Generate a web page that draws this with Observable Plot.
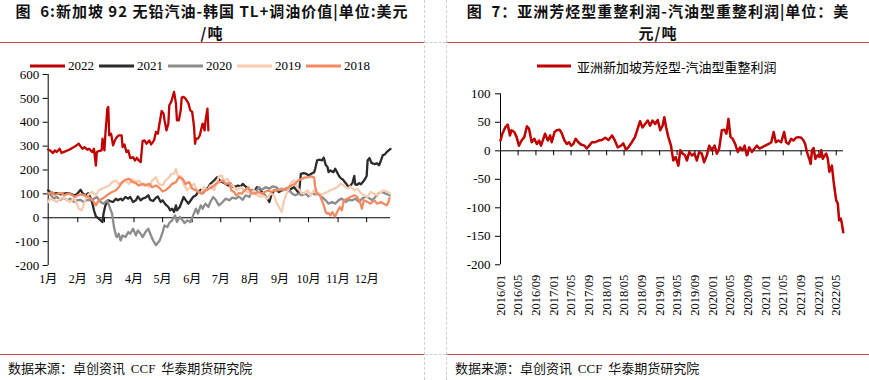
<!DOCTYPE html>
<html><head><meta charset="utf-8">
<script src="https://cdn.jsdelivr.net/npm/d3@7"></script>
<script src="https://cdn.jsdelivr.net/npm/@observablehq/plot@0.6"></script>
<style>
body{margin:0;background:#fff;}
#root{position:relative;width:869px;height:380px;overflow:hidden;font-family:"Noto Sans CJK SC",sans-serif;color:#000;}
.title{position:absolute;text-align:center;font-weight:bold;font-size:15px;letter-spacing:1px;line-height:22px;height:22px;color:#111;white-space:nowrap;}
.foot{position:absolute;top:359px;font-size:13px;line-height:18px;white-space:nowrap;color:#111;}
.foot .lat{font-family:"Liberation Serif",serif;}
.vdash{position:absolute;top:0;height:380px;width:0;border-left:1px dashed #cfcfcf;}
.hdash{position:absolute;height:0;border-top:1px dashed #cfcfcf;}
.red{position:absolute;height:0;border-top:1px solid #c0504d;}
.legend{position:absolute;display:flex;align-items:center;white-space:nowrap;}
.legend .item{display:flex;align-items:center;margin-right:5px;}
.legend svg{margin-right:3px;}
.chart{position:absolute;}
</style>
</head><body>
<div id="root">
  <div class="title" style="left:0;width:424px;top:0;">图&nbsp;&nbsp;6:新加坡&nbsp;92&nbsp;无铅汽油-韩国&nbsp;TL+调油价值|单位:美元</div>
  <div class="title" style="left:0;width:424px;top:22px;">/吨</div>
  <div class="title" style="left:447px;width:422px;top:0;">图&nbsp;&nbsp;7：亚洲芳烃型重整利润-汽油型重整利润|单位：美</div>
  <div class="title" style="left:447px;width:422px;top:22px;">元/吨</div>
  <div class="red" style="left:0;width:424px;top:42px;"></div>
  <div class="red" style="left:447px;width:422px;top:42px;"></div>
  <div class="red" style="left:0;width:424px;top:354px;"></div>
  <div class="red" style="left:447px;width:422px;top:354px;"></div>
  <div class="vdash" style="left:424px;"></div>
  <div class="vdash" style="left:446px;"></div>
  <div class="hdash" style="left:425px;width:21px;top:42px;"></div>
  <div class="hdash" style="left:425px;width:21px;top:354px;"></div>
  <div id="legL" class="legend" style="left:30px;top:58px;height:16px;"></div>
  <div id="legR" class="legend" style="left:537px;top:57px;height:18px;"></div>
  <div id="chartL" class="chart" style="left:0;top:0;"></div>
  <div id="chartR" class="chart" style="left:440px;top:0;"></div>
  <div class="foot" style="left:8px;">数据来源：卓创资讯&nbsp;&nbsp;<span class="lat">CCF</span>&nbsp;&nbsp;华泰期货研究院</div>
  <div class="foot" style="left:455px;">数据来源：卓创资讯&nbsp;&nbsp;<span class="lat">CCF</span>&nbsp;&nbsp;华泰期货研究院</div>
</div>
<script>
// ---------- Left chart data (x = day of year, y = USD/t) ----------
const leftYears = ["2022", "2021", "2020", "2019", "2018"];
const leftColors = ["#C00000", "#2b2b2b", "#8c8c8c", "#F9CBB0", "#F28A62"];
const monthStarts = [0, 31, 59, 90, 120, 151, 181, 212, 243, 273, 304, 334];
const monthLabels = ["1月","2月","3月","4月","5月","6月","7月","8月","9月","10月","11月","12月"];
const leftYTicks = [-200, -100, 0, 100, 200, 300, 400, 500, 600];

const s2022 = [[0,286],[2,282],[5,271],[7,282],[9,275],[12,289],[14,271],[16,275],[22,285],[27,296],[32,310],[34,299],[36,289],[38,296],[41,285],[43,289],[46,275],[48,289],[50,218],[51,275],[53,279],[56,282],[57,331],[59,282],[60,352],[62,457],[63,464],[64,345],[66,352],[68,303],[70,324],[72,338],[74,345],[77,345],[78,296],[80,307],[82,275],[84,282],[86,250],[89,254],[91,240],[93,251],[95,240],[97,233],[99,321],[101,324],[103,310],[106,324],[108,307],[111,324],[113,359],[115,352],[117,401],[119,447],[121,436],[122,408],[124,366],[126,394],[127,471],[129,485],[131,513],[132,527],[134,478],[135,408],[137,408],[139,450],[140,503],[142,506],[144,499],[147,480],[149,450],[151,443],[153,380],[154,310],[155,331],[157,331],[159,345],[161,380],[162,394],[164,366],[165,408],[167,457],[168,366]];
const s2021 = [[0,115],[2,108],[6,101],[9,103],[13,98],[16,101],[20,103],[23,101],[27,94],[30,98],[34,117],[36,103],[39,94],[42,103],[44,87],[46,66],[48,31],[50,6],[51,3],[53,-4],[55,-11],[57,-18],[58,17],[60,52],[63,73],[65,70],[68,66],[71,80],[73,73],[76,80],[78,73],[81,87],[84,80],[86,87],[89,66],[92,73],[94,89],[97,73],[99,80],[102,84],[105,94],[107,75],[110,70],[113,84],[115,89],[118,66],[120,73],[123,56],[126,45],[128,31],[130,38],[132,24],[134,52],[135,31],[138,45],[140,66],[142,87],[144,75],[147,59],[149,70],[152,87],[155,94],[157,108],[160,117],[162,103],[165,115],[168,128],[170,142],[174,156],[177,170],[180,156],[183,149],[186,142],[189,135],[191,145],[194,128],[197,131],[199,135],[202,131],[204,142],[207,131],[210,122],[212,115],[214,108],[217,117],[219,128],[222,122],[224,108],[227,94],[230,80],[232,66],[234,94],[237,115],[239,117],[242,108],[245,115],[247,117],[250,122],[252,112],[255,122],[258,128],[260,117],[263,103],[265,184],[268,187],[271,184],[273,177],[276,184],[279,191],[280,205],[282,240],[285,243],[287,240],[289,252],[291,222],[293,212],[294,191],[296,198],[299,191],[301,205],[303,190],[305,175],[307,165],[309,160],[311,150],[313,140],[315,128],[317,135],[319,145],[321,175],[322,140],[324,138],[326,145],[328,140],[330,150],[332,160],[334,175],[335,240],[337,250],[339,230],[342,225],[345,228],[347,220],[349,240],[351,262],[353,265],[355,275],[357,282],[359,288]];
const s2020 = [[0,101],[2,98],[6,80],[9,87],[13,75],[16,84],[20,73],[23,80],[27,66],[30,73],[34,75],[37,66],[41,75],[44,73],[48,80],[51,87],[55,66],[58,59],[62,73],[65,38],[67,17],[69,-39],[71,-74],[72,-81],[74,-67],[76,-95],[78,-74],[81,-81],[84,-60],[86,-67],[89,-46],[92,-74],[94,-53],[97,-67],[99,-81],[102,-60],[105,-46],[107,-67],[110,-95],[113,-115],[115,-105],[117,-95],[120,-60],[122,-32],[125,-39],[127,-22],[130,-11],[133,10],[135,-18],[138,3],[141,-11],[143,-22],[146,-11],[149,-18],[152,10],[155,38],[157,17],[160,52],[162,38],[165,59],[168,45],[170,66],[173,87],[176,73],[179,52],[183,66],[186,80],[190,73],[193,84],[197,80],[200,89],[204,75],[207,94],[211,87],[214,117],[218,108],[221,128],[224,117],[228,128],[232,122],[235,131],[239,128],[242,117],[246,115],[249,122],[252,117],[256,101],[259,94],[263,101],[266,94],[270,101],[273,89],[277,103],[280,98],[284,101],[287,87],[291,73],[294,59],[298,66],[301,59],[305,75],[308,80],[312,66],[315,75],[319,73],[322,80],[326,66],[329,80],[333,89],[336,84],[340,73],[343,87],[347,103],[350,108],[354,101],[358,94]];
const s2019 = [[0,66],[2,80],[6,73],[9,66],[13,80],[16,87],[20,73],[23,66],[27,80],[30,59],[32,38],[35,31],[37,52],[40,87],[43,101],[46,108],[50,94],[53,115],[57,122],[60,128],[64,135],[67,149],[71,156],[74,142],[78,149],[81,156],[85,142],[88,163],[92,149],[95,156],[99,135],[102,142],[106,128],[109,156],[113,170],[116,142],[120,135],[123,156],[127,170],[129,184],[132,184],[134,205],[136,177],[139,173],[142,142],[146,115],[149,128],[153,142],[156,115],[160,101],[163,128],[167,115],[170,135],[174,115],[179,173],[182,177],[184,156],[188,163],[191,142],[195,128],[198,115],[202,128],[205,115],[209,108],[212,101],[216,115],[219,94],[223,87],[226,94],[230,80],[233,101],[237,94],[239,66],[242,45],[245,24],[247,66],[250,101],[252,122],[255,149],[258,156],[261,128],[265,108],[268,101],[272,115],[275,94],[279,115],[282,101],[286,94],[289,101],[293,108],[296,115],[300,122],[303,128],[307,142],[310,135],[314,122],[317,131],[321,115],[324,122],[328,103],[331,94],[335,87],[338,108],[342,101],[345,94],[349,108],[352,115],[356,108],[358,103]];
const s2018 = [[0,101],[4,108],[7,94],[10,101],[14,103],[17,94],[21,101],[24,98],[28,87],[31,94],[35,98],[38,94],[42,87],[45,80],[48,66],[50,52],[53,73],[57,80],[60,89],[64,101],[67,108],[71,115],[74,128],[78,150],[81,160],[85,163],[88,150],[92,145],[95,135],[99,142],[102,135],[106,142],[109,128],[113,135],[116,128],[120,110],[123,115],[127,128],[130,142],[134,149],[137,170],[141,163],[144,142],[148,149],[151,122],[155,115],[158,108],[161,101],[165,115],[169,122],[172,128],[176,142],[179,149],[183,156],[186,142],[190,145],[192,115],[195,108],[197,94],[200,103],[203,101],[206,115],[210,128],[213,103],[217,101],[220,108],[224,101],[227,108],[231,115],[234,108],[238,117],[241,115],[245,122],[248,117],[252,128],[255,135],[259,142],[262,156],[266,163],[269,168],[273,170],[276,173],[279,168],[280,128],[282,101],[285,94],[287,73],[289,52],[291,24],[293,17],[294,20],[296,10],[298,24],[300,10],[301,6],[303,24],[306,45],[308,31],[310,73],[314,80],[317,87],[321,94],[324,87],[327,66],[329,38],[331,73],[335,66],[338,59],[342,73],[345,59],[349,66],[352,59],[355,52],[357,66],[358,84]];
const leftSeries = [s2022, s2021, s2020, s2019, s2018];

// ---------- Right chart data ----------
const rightLabel = "亚洲新加坡芳烃型-汽油型重整利润";
const rightColor = "#C00000";
const rightTickLabels = ["2016/01","2016/05","2016/09","2017/01","2017/05","2017/09","2018/01","2018/05","2018/09","2019/01","2019/05","2019/09","2020/01","2020/05","2020/09","2021/01","2021/05","2021/09","2022/01","2022/05"];
const rightYTicks = [-200, -150, -100, -50, 0, 50, 100];
const rightXDomain = ["2016-01-01", "2022-06-20"];
const rightData = [
["2016-01-01",18],["2016-01-14",30],["2016-02-02",41],["2016-02-20",46],["2016-03-06",27],["2016-03-17",36],["2016-04-05",33],["2016-04-21",24],["2016-05-07",9],["2016-05-25",18],["2016-06-13",24],["2016-07-01",43],["2016-07-15",39],["2016-08-03",15],["2016-08-21",21],["2016-09-07",12],["2016-09-23",18],["2016-10-06",9],["2016-10-22",21],["2016-11-03",30],["2016-11-22",18],["2016-12-08",27],["2016-12-19",15],
["2017-01-07",33],["2017-01-23",36],["2017-02-11",37],["2017-02-27",30],["2017-03-15",19],["2017-04-01",12],["2017-04-17",15],["2017-05-01",9],["2017-05-16",12],["2017-06-02",21],["2017-06-20",15],["2017-07-08",11],["2017-08-01",9],["2017-08-17",4],["2017-09-03",9],["2017-09-21",15],["2017-10-14",15],["2017-11-06",18],["2017-11-29",19],["2017-12-22",23],
["2018-01-14",19],["2018-02-07",27],["2018-02-25",19],["2018-03-18",6],["2018-04-10",9],["2018-04-26",13],["2018-05-14",2],["2018-05-30",6],["2018-06-23",15],["2018-07-15",24],["2018-08-03",39],["2018-08-19",52],["2018-09-05",41],["2018-09-23",47],["2018-10-11",53],["2018-10-27",44],["2018-11-13",53],["2018-12-01",47],["2018-12-19",54],
["2019-01-05",36],["2019-01-21",44],["2019-02-02",59],["2019-02-15",41],["2019-03-02",24],["2019-03-20",9],["2019-04-05",-17],["2019-04-21",-11],["2019-05-10",-26],["2019-05-23",1],["2019-06-09",-5],["2019-06-25",-8],["2019-07-08",-17],["2019-07-24",-2],["2019-08-10",-8],["2019-08-28",-5],["2019-09-14",-17],["2019-09-30",-2],["2019-10-18",-5],["2019-11-03",-20],["2019-11-22",-8],["2019-12-08",9],["2019-12-26",1],
["2020-01-14",9],["2020-01-30",-5],["2020-02-15",4],["2020-03-04",36],["2020-03-22",37],["2020-04-05",30],["2020-04-19",56],["2020-05-03",24],["2020-05-18",21],["2020-06-04",12],["2020-06-22",-2],["2020-07-08",6],["2020-07-24",1],["2020-08-08",9],["2020-08-23",-8],["2020-09-09",6],["2020-09-27",-2],["2020-10-15",4],["2020-11-01",9],["2020-11-17",4],["2020-12-05",6],["2020-12-28",9],
["2021-01-21",12],["2021-02-08",15],["2021-02-24",33],["2021-03-11",15],["2021-03-29",18],["2021-04-17",15],["2021-05-07",33],["2021-05-21",15],["2021-06-06",12],["2021-06-24",21],["2021-07-10",18],["2021-07-28",23],["2021-08-14",24],["2021-09-02",23],["2021-09-18",18],["2021-09-29",12],["2021-10-11",-2],["2021-10-27",-14],["2021-11-06",-23],["2021-11-15",1],["2021-11-26",5],["2021-12-08",-14],["2021-12-23",-8],
["2022-01-07",-11],["2022-01-18",1],["2022-01-28",-14],["2022-02-11",-8],["2022-02-21",-5],["2022-03-04",-14],["2022-03-15",-37],["2022-04-01",-26],["2022-04-12",-52],["2022-04-24",-75],["2022-05-01",-87],["2022-05-12",-93],["2022-05-21",-122],["2022-06-02",-119],["2022-06-09",-128],["2022-06-18",-143]
];

// ---------- Left chart ----------
const latinFont = "'Liberation Serif','Noto Sans CJK SC',serif";
const leftMarks = [
  Plot.axisY({ticks: leftYTicks, tickSize: 5, tickPadding: 4, tickFormat: d => `${d}`, label: null, fontSize: 13}),
  Plot.axisX({ticks: monthStarts, tickSize: 0, tickPadding: 9, tickFormat: d => monthLabels[monthStarts.indexOf(d)], label: null, fontSize: 12}),
  Plot.ruleX([0], {stroke: "#000"}),
  Plot.ruleY([0], {stroke: "#000"}),
  Plot.ruleX(monthStarts.slice(1), {x: d => d, y1: 0, y2: 0, insetTop: 5, stroke: "#000"})
];
leftSeries.forEach((s, i) => {
  leftMarks.push(Plot.line(s, {x: d => d[0], y: d => d[1], stroke: leftColors[i], strokeWidth: 2.3}));
});
const chartL = Plot.plot({
  width: 430, height: 320,
  marginLeft: 47.7, marginRight: 40, marginTop: 74, marginBottom: 55,
  style: {fontFamily: latinFont, fontSize: "13px", color: "#000", background: "transparent", overflow: "visible"},
  x: {domain: [0, 359]},
  y: {domain: [-200, 600]},
  marks: leftMarks
});
document.getElementById("chartL").appendChild(chartL);

// ---------- Right chart ----------
const rightTickDates = rightTickLabels.map(s => new Date(s.replace("/", "-") + "-01"));
const rightParsed = rightData.map(([d, v]) => [new Date(d), v]);
const chartR = Plot.plot({
  width: 429, height: 330,
  marginLeft: 60, marginRight: 26, marginTop: 93.3, marginBottom: 65.7,
  style: {fontFamily: latinFont, fontSize: "13px", color: "#000", background: "transparent", overflow: "visible"},
  x: {type: "utc", domain: rightXDomain.map(d => new Date(d))},
  y: {domain: [-200, 100]},
  marks: [
    Plot.axisY({ticks: rightYTicks, tickSize: 5, tickPadding: 5, tickFormat: d => `${d}`, label: null, fontSize: 13}),
    Plot.axisX({ticks: rightTickDates, tickSize: 0, tickPadding: 10, tickRotate: -90, tickFormat: d3.utcFormat("%Y/%m"), label: null, fontSize: 12.5}),
    Plot.ruleX([rightTickDates[0]], {stroke: "#000"}),
    Plot.ruleY([0], {stroke: "#000"}),
    Plot.ruleX(rightTickDates.slice(1), {x: d => d, y1: 0, y2: 0, insetTop: 5, stroke: "#000"}),
    Plot.line(rightParsed, {x: d => d[0], y: d => d[1], stroke: rightColor, strokeWidth: 2.5})
  ]
});
document.getElementById("chartR").appendChild(chartR);

// ---------- Legends ----------
const legL = document.getElementById("legL");
leftYears.forEach((y, i) => {
  const item = document.createElement("div");
  item.className = "item";
  item.innerHTML = `<svg width="35" height="8"><line x1="0" x2="35" y1="4" y2="4" stroke="${leftColors[i]}" stroke-width="3"/></svg><span style="font-family:${latinFont.replace(/"/g,'')};font-size:13px;">${y}</span>`;
  legL.appendChild(item);
});
const legR = document.getElementById("legR");
legR.innerHTML = `<svg width="34" height="8" style="margin-right:6px"><line x1="0" x2="34" y1="4" y2="4" stroke="${rightColor}" stroke-width="3"/></svg><span style="font-size:13px;">${rightLabel}</span>`;
</script>
</body></html>
